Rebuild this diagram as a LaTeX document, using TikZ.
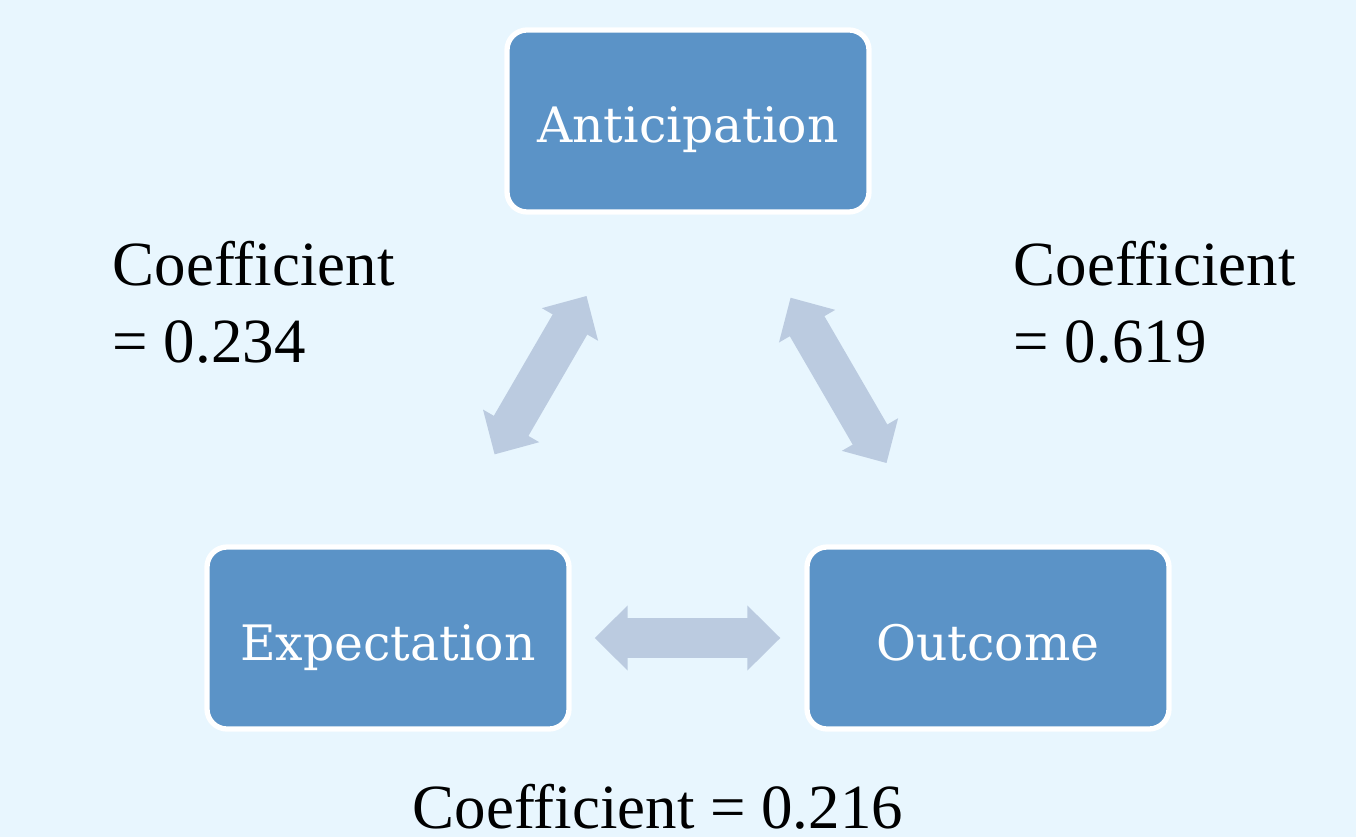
\documentclass[tikz,border=0pt]{standalone}
\usepackage{fontspec}
\setmainfont{Liberation Serif}
\newfontfamily\boxfont{DejaVu Serif}
\usetikzlibrary{arrows.meta}

\definecolor{bgblue}{HTML}{E8F6FE}
\definecolor{boxblue}{HTML}{5B93C7}
\definecolor{arrowblue}{HTML}{BBCBE0}

\begin{document}
\begin{tikzpicture}[x=0.1mm,y=-0.1mm,
  box/.style={draw=white,line width=1.5pt,fill=boxblue,rounded corners=2mm,
    minimum width=36.2mm,minimum height=18.2mm,inner sep=0pt,text=white,
    font=\boxfont\fontsize{13.9}{16}\selectfont,text height=4.4mm,text depth=0pt},
  bigarrow/.style={draw=arrowblue,line width=4mm,
    {Triangle[length=3.3mm,width=6.3mm]}-{Triangle[length=3.3mm,width=6.3mm]}},
  coef/.style={font=\fontsize{17.9}{21.9}\selectfont,inner sep=0pt,align=left}]
  \useasboundingbox[fill=bgblue] (0,0) rectangle (1356,837);
  % the three boxes
  \node[box] (ant) at (688,121) {Anticipation};
  \node[box] (exp) at (388,638) {Expectation};
  \node[box] (out) at (988,638) {Outcome};
  % double arrows between them
  \draw[bigarrow,shorten <=10.4mm,shorten >=9.4mm] (exp) -- (ant);
  \draw[bigarrow,shorten <=9.6mm,shorten >=9.4mm] (ant) -- (out);
  \draw[bigarrow,shorten <=2.3mm,shorten >=2.4mm] (exp) -- (out);
  % coefficients
  \node[coef,anchor=north west] (antexp) at (112,241) {Coefficient\\= 0.234};
  \node[coef,anchor=north west] (antout) at (1013,241) {Coefficient\\= 0.619};
  \node[coef,anchor=base west] (expout) at (412,828) {Coefficient = 0.216};
\end{tikzpicture}
\end{document}
